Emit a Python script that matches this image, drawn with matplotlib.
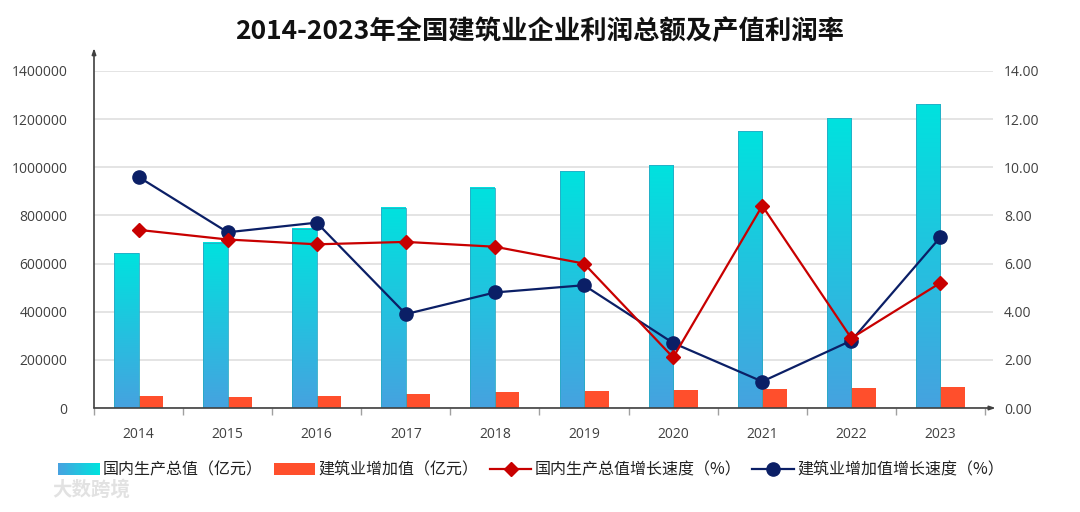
import numpy as np
import matplotlib
matplotlib.use('Agg')
import matplotlib.pyplot as plt
from matplotlib.patches import Rectangle
from matplotlib.colors import LinearSegmentedColormap

plt.rcParams['font.family'] = ['Noto Sans CJK SC', 'DejaVu Sans']

years = ['2014', '2015', '2016', '2017', '2018', '2019', '2020', '2021', '2022', '2023']
gdp = [643000, 686000, 744000, 832000, 915000, 984000, 1009000, 1150000, 1203000, 1261000]
construction = [48000, 46600, 51000, 57000, 65000, 71000, 73000, 80000, 82000, 85700]
gdp_growth = [7.4, 7.0, 6.8, 6.9, 6.7, 6.0, 2.1, 8.4, 2.9, 5.2]
construction_growth = [9.6, 7.3, 7.7, 3.9, 4.8, 5.1, 2.7, 1.1, 2.8, 7.1]

title = '2014-2023年全国建筑业企业利润总额及产值利润率'
labels = ['国内生产总值（亿元）', '建筑业增加值（亿元）',
          '国内生产总值增长速度（%）', '建筑业增加值增长速度（%）']

cyan_blue = LinearSegmentedColormap.from_list('cb', ['#46A2E0', '#00E2DE'])
bar_red = '#FF4F2C'
line_red = '#C80000'
navy = '#0B1F66'
txt = '#404040'
num_font = ['Open Sans', 'DejaVu Sans']


class GradientHandler:
    def legend_artist(self, legend, orig_handle, fontsize, handlebox):
        x0, y0 = -handlebox.xdescent, -handlebox.ydescent
        w, h = handlebox.width, handlebox.height
        n = 24
        for i in range(n):
            r = Rectangle((x0 + w * i / n, y0), w / n + 0.3, h,
                          facecolor=cyan_blue(i / (n - 1)), lw=0,
                          transform=handlebox.get_transform())
            handlebox.add_artist(r)
        return r


fig = plt.figure(figsize=(10.8, 5.12), dpi=100)
ax = fig.add_axes([94 / 1080, 1 - 408 / 512, (993 - 94) / 1080, (408 - 71) / 512])
x = np.arange(len(years))
w = 0.275

bars = ax.bar(x - w / 2, gdp, w, color='none', edgecolor='none', zorder=2)
grad = np.linspace(0, 1, 256).reshape(-1, 1)
for b in bars:
    bx, bw, bh = b.get_x(), b.get_width(), b.get_height()
    ax.imshow(grad, cmap=cyan_blue, origin='lower', aspect='auto',
              extent=(bx, bx + bw, 0, bh), zorder=2)
    ax.add_patch(Rectangle((bx, 0), bw, bh, fill=False, edgecolor='#29A9C4',
                           lw=0.6, zorder=2.1))
red_bars = ax.bar(x + w / 2, construction, w, color=bar_red, zorder=2)

ax.set_xlim(-0.5, 9.59)
ax.set_ylim(0, 1400000)
ax.set_aspect('auto')
ax.set_yticks(np.arange(0, 1400001, 200000))
ax.set_yticklabels([str(v) for v in range(0, 1400001, 200000)], family=num_font)
ax.set_xticks(x)
ax.set_xticklabels(years, family=num_font)
ax.set_xticks(np.arange(-0.5, 10, 1), minor=True)
ax.tick_params(axis='x', which='major', length=0, pad=14, labelsize=10, labelcolor=txt)
ax.tick_params(axis='x', which='minor', length=5, color='#A0A0A0', width=1)
ax.tick_params(axis='y', length=0, pad=19, labelsize=10, labelcolor=txt)
ax.grid(axis='y', color='#DCDCDC', lw=1.1, zorder=0)
ax.set_axisbelow(True)
for s in ['top', 'right', 'bottom', 'left']:
    ax.spines[s].set_visible(False)
ax.annotate('', xy=(0, 1.068), xytext=(0, 0), xycoords='axes fraction',
            arrowprops=dict(arrowstyle='-|>,head_length=0.35,head_width=0.12',
                            color='#404040', lw=1.2, shrinkA=0, shrinkB=0))
ax.annotate('', xy=(1.003, 0), xytext=(0, 0), xycoords='axes fraction',
            arrowprops=dict(arrowstyle='-|>,head_length=0.35,head_width=0.12',
                            color='#404040', lw=1.2, shrinkA=0, shrinkB=0))

ax2 = ax.twinx()
ax2.set_ylim(0, 14)
ax2.set_yticks(np.arange(0, 15, 2))
ax2.set_yticklabels(['%.2f' % v for v in range(0, 15, 2)], family=num_font)
ax2.tick_params(axis='y', length=0, pad=8, labelsize=10, labelcolor=txt)
for s in ['top', 'right', 'bottom', 'left']:
    ax2.spines[s].set_visible(False)
l2, = ax2.plot(x, construction_growth, color=navy, lw=1.6, marker='o',
               markersize=9.5, zorder=3)
l1, = ax2.plot(x, gdp_growth, color=line_red, lw=1.6, marker='D',
               markersize=7, zorder=4)

fig.text(540 / 1080, 1 - 31 / 512, title, ha='center', va='center',
         fontsize=19, fontweight='bold', color='#111111')

fig.legend([bars, red_bars, l1, l2], labels,
           handler_map={bars: GradientHandler()},
           loc='center', bbox_to_anchor=(531 / 1080, 1 - 470 / 512), ncol=4,
           frameon=False, fontsize=11.5, handlelength=2.6, handleheight=0.8,
           handletextpad=0.2, columnspacing=0.7, labelcolor='#222222')

fig.text(52 / 1080, 1 - 490 / 512, '大数跨境', ha='left', va='center', fontsize=14,
         fontweight='bold', color='#E2E2E2')

fig.savefig('out.png', dpi=100)
